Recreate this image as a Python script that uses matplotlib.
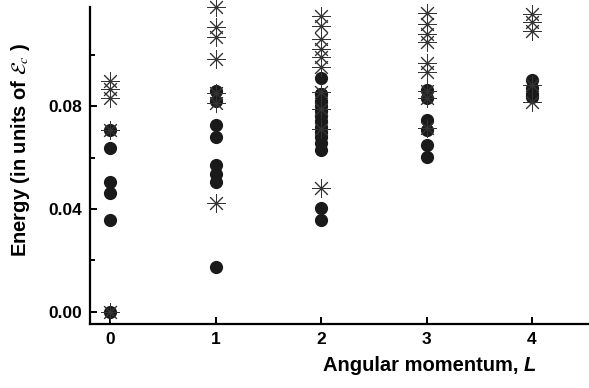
import matplotlib.pyplot as plt
from matplotlib.ticker import MultipleLocator

plt.rcParams['font.family'] = ['Liberation Sans', 'DejaVu Sans']
plt.rcParams['mathtext.fontset'] = 'stix'

# filled circles: (L, energy)
circle_L = [0, 0, 0, 0, 0, 0,
            1, 1, 1, 1, 1, 1, 1, 1,
            2, 2, 2, 2, 2, 2, 2, 2, 2, 2, 2, 2, 2, 2, 2,
            3, 3, 3, 3, 3, 3,
            4, 4, 4, 4]
circle_E = [0.0706, 0.0636, 0.0504, 0.0462, 0.0357, 0.0,
            0.0857, 0.0819, 0.0726, 0.0679, 0.0570, 0.0535, 0.0504, 0.0175,
            0.0908, 0.0845, 0.0820, 0.0800, 0.0780, 0.0760, 0.0740, 0.0720,
            0.0700, 0.0680, 0.0655, 0.0630, 0.0404, 0.0357, 0.0845,
            0.0861, 0.0830, 0.0745, 0.0706, 0.0648, 0.0601,
            0.0900, 0.0870, 0.0845, 0.0834]

# asterisks: (L, energy)
star_L = [0, 0, 0, 0, 0,
          1, 1, 1, 1, 1, 1, 1,
          2, 2, 2, 2, 2, 2, 2, 2, 2, 2,
          3, 3, 3, 3, 3, 3, 3, 3, 3,
          4, 4, 4, 4, 4]
star_E = [0.0896, 0.0865, 0.0830, 0.0706, 0.0,
          0.1184, 0.1106, 0.1067, 0.0982, 0.0850, 0.0810, 0.0423,
          0.1150, 0.1110, 0.1060, 0.1020, 0.0990, 0.0950, 0.0855, 0.0790,
          0.0710, 0.0480,
          0.1160, 0.1120, 0.1080, 0.1050, 0.0966, 0.0931, 0.0860, 0.0830,
          0.0714,
          0.1156, 0.1125, 0.1090, 0.0880, 0.0815]

fig = plt.figure(figsize=(5.89, 3.88), dpi=100)
ax = fig.add_axes([0.153, 0.165, 0.847, 0.817])

ax.plot(circle_L, circle_E, 'o', color='#1a1a1a', markersize=9.5,
        markeredgewidth=0, zorder=2, clip_on=False)
ax.plot(star_L, star_E, marker=(8, 2, 0), linestyle='none', color='#333333',
        markersize=13, markeredgewidth=0.7, zorder=3, clip_on=False)

ax.set_xlim(-0.19, 4.54)
ax.set_ylim(-0.0047, 0.1185)
ax.set_xticks([0, 1, 2, 3, 4])
ax.yaxis.set_major_locator(MultipleLocator(0.04))
ax.yaxis.set_minor_locator(MultipleLocator(0.02))
ax.set_yticks([0.0, 0.04, 0.08])
ax.set_yticklabels(['0.00', '0.04', '0.08'])

for s in ['top', 'right']:
    ax.spines[s].set_visible(False)
for s in ['left', 'bottom']:
    ax.spines[s].set_linewidth(1.6)

ax.tick_params(which='major', direction='in', length=5, width=1.4,
               labelsize=12.5, pad=6)
ax.tick_params(which='minor', direction='in', length=3.5, width=1.4)
ax.tick_params(axis='x', which='minor', length=0)
for lab in ax.get_xticklabels() + ax.get_yticklabels():
    lab.set_fontweight('bold')

# x label: bold text followed by a bold italic L
xl = fig.text(0.548, 0.033, 'Angular momentum, ', ha='left', va='bottom',
              fontsize=14.5, fontweight='bold')
ax.annotate('L', xy=(1, 0), xycoords=xl, ha='left', va='bottom',
            fontsize=14.5, fontweight='bold', fontstyle='italic',
            annotation_clip=False)

fig.text(0.034, 0.613, 'Energy (in units of $\\mathcal{E}_c$ )', rotation=90,
         ha='center', va='center', fontsize=14.5, fontweight='bold')

fig.savefig('out.png', dpi=100)
